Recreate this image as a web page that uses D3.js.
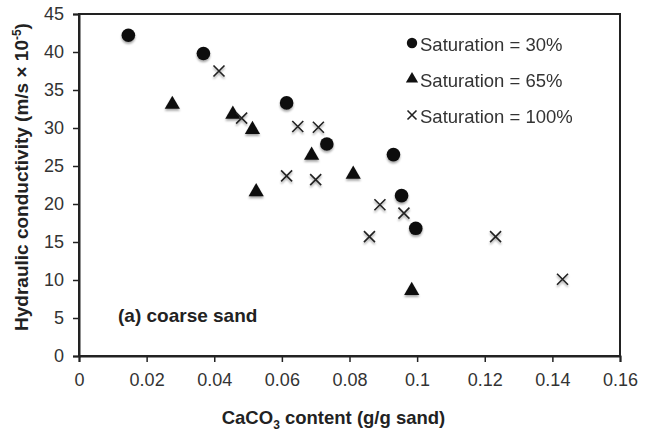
<!DOCTYPE html>
<html>
<head>
<meta charset="utf-8">
<script src="https://cdn.jsdelivr.net/npm/d3@7/dist/d3.min.js"></script>
<style>
  body { margin: 0; background: #fff; }
  svg { display: block; font-family: "Liberation Sans", Arial, sans-serif; }
</style>
</head>
<body>
<svg id="chart" width="645" height="438"></svg>
<script>
// saturation = 30%
var sat30X = [0.0146, 0.0368, 0.0614, 0.0733, 0.0930, 0.0954, 0.0996];
var sat30Y = [42.2, 39.8, 33.3, 27.9, 26.5, 21.1, 16.8];
// saturation = 65%
var sat65X = [0.0276, 0.0455, 0.0513, 0.0524, 0.0688, 0.0811, 0.0984];
var sat65Y = [33.1, 31.8, 29.8, 21.6, 26.4, 23.9, 8.6];
// saturation = 100%
var sat100X = [0.0414, 0.0481, 0.0647, 0.0708, 0.0614, 0.0700, 0.0890, 0.0961, 0.0859, 0.1232, 0.1430];
var sat100Y = [37.5, 31.3, 30.2, 30.1, 23.7, 23.2, 19.9, 18.8, 15.7, 15.7, 10.1];

var xTicks = [0, 0.02, 0.04, 0.06, 0.08, 0.1, 0.12, 0.14, 0.16];
var yTicks = [0, 5, 10, 15, 20, 25, 30, 35, 40, 45];
var legendLabels = ["Saturation = 30%", "Saturation = 65%", "Saturation = 100%"];

var svg = d3.select("#chart");
var margin = { left: 79, right: 25, top: 14, bottom: 82 };
var width = 645 - margin.left - margin.right,
	height = 438 - margin.top - margin.bottom;

var x = d3.scaleLinear().domain([0, 0.16]).range([0, width]);
var y = d3.scaleLinear().domain([0, 45]).range([height, 0]);

var defs = svg.append("defs");
var blur = defs.append("filter").attr("id", "shade")
	.attr("x", "-50%").attr("y", "-50%").attr("width", "200%").attr("height", "200%");
blur.append("feDropShadow").attr("dx", 0).attr("dy", 2).attr("stdDeviation", 1.2)
	.attr("flood-color", "#000").attr("flood-opacity", 0.35);

var g = svg.append("g").attr("transform", "translate(" + margin.left + "," + margin.top + ")");

// frame
g.append("rect")
	.attr("width", width).attr("height", height)
	.attr("fill", "none").attr("stroke", "#222").attr("stroke-width", 2);

var xAxis = g.append("g")
	.attr("transform", "translate(0," + height + ")")
	.call(d3.axisBottom(x).tickValues(xTicks).tickSize(6).tickPadding(11)
		.tickFormat(function(d) { return d === 0 ? "0" : String(+d.toFixed(2)); }));

var yAxis = g.append("g")
	.call(d3.axisLeft(y).tickValues(yTicks).tickSize(6).tickPadding(9));

[xAxis, yAxis].forEach(function(a) {
	a.select(".domain").attr("stroke", "#222").attr("stroke-width", 2);
	a.selectAll(".tick line").attr("stroke", "#222").attr("stroke-width", 1.5);
	a.selectAll(".tick text").attr("fill", "#333").style("font-size", "18px");
});

function drawCircle(sel, r) {
	sel.append("circle").attr("r", r).attr("fill", "#111");
}
function drawTriangle(sel, s) {
	sel.append("path").attr("d", d3.symbol().type(d3.symbolTriangle).size(s)).attr("fill", "#111");
}
function drawCross(sel, h) {
	sel.append("path")
		.attr("d", "M" + (-h) + "," + (-h) + "L" + h + "," + h + "M" + (-h) + "," + h + "L" + h + "," + (-h))
		.attr("stroke", "#222").attr("stroke-width", 1.6).attr("fill", "none");
}

function plotSeries(xs, ys, draw, arg) {
	g.append("g").attr("filter", "url(#shade)")
		.selectAll("g").data(xs).enter().append("g")
		.attr("transform", function(d, i) { return "translate(" + x(d) + "," + y(ys[i]) + ")"; })
		.each(function() { draw(d3.select(this), arg); });
}

plotSeries(sat30X, sat30Y, drawCircle, 6.8);
plotSeries(sat65X, sat65Y, drawTriangle, 100);
plotSeries(sat100X, sat100Y, drawCross, 5.5);

// legend
var legend = g.append("g").attr("transform", "translate(333,0)");
var legendDraw = [[drawCircle, 5.2], [drawTriangle, 65], [drawCross, 4.5]];
legendLabels.forEach(function(label, i) {
	var row = legend.append("g").attr("transform", "translate(0," + (29 + i * 36) + ")");
	var m = row.append("g");
	legendDraw[i][0](m, legendDraw[i][1]);
	row.append("text").attr("x", 8).attr("y", 8)
		.attr("fill", "#333").style("font-size", "18.5px").text(label);
});

// panel label
g.append("text").attr("x", 39).attr("y", 308)
	.attr("fill", "#222").style("font-size", "19px").style("font-weight", "bold")
	.text("(a) coarse sand");

// axis titles
var xt = svg.append("text")
	.attr("x", margin.left + width / 2 - 16).attr("y", 424)
	.attr("text-anchor", "middle").attr("fill", "#222")
	.style("font-size", "18.5px").style("font-weight", "bold");
xt.append("tspan").text("CaCO");
xt.append("tspan").attr("dy", 5).style("font-size", "12px").text("3");
xt.append("tspan").attr("dy", -5).text(" content (g/g sand)");

var yt = svg.append("text")
	.attr("transform", "translate(28,177) rotate(-90)")
	.attr("text-anchor", "middle").attr("fill", "#222")
	.style("font-size", "19px").style("font-weight", "bold");
yt.append("tspan").text("Hydraulic conductivity (m/s \u00d7 10");
yt.append("tspan").attr("dy", -7).style("font-size", "12px").text("-5");
yt.append("tspan").attr("dy", 7).text(")");
</script>
</body>
</html>
